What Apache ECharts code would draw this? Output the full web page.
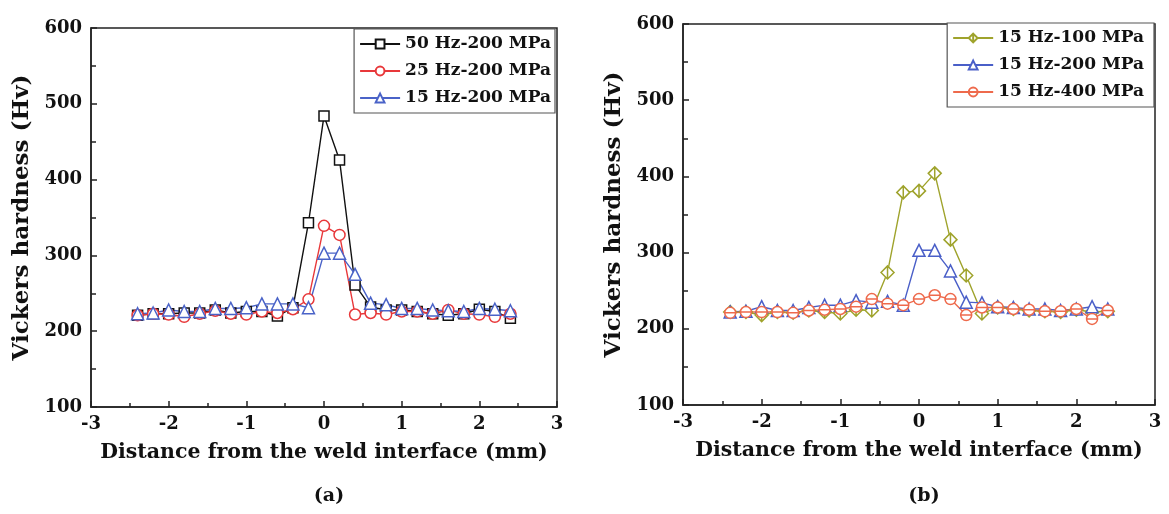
<!DOCTYPE html>
<html>
<head>
<meta charset="utf-8">
<script src="https://cdn.jsdelivr.net/npm/echarts@6/dist/echarts.min.js"></script>
<style>
  html, body { margin: 0; padding: 0; background: #fff; }
  #main { width: 1169px; height: 514px; }
</style>
</head>
<body>
<div id="main"></div>
<script>
// distance from the weld interface (mm)
var xs = [-2.4, -2.2, -2.0, -1.8, -1.6, -1.4, -1.2, -1.0, -0.8, -0.6, -0.4, -0.2, 0,
          0.2, 0.4, 0.6, 0.8, 1.0, 1.2, 1.4, 1.6, 1.8, 2.0, 2.2, 2.4];

// (a) 200 MPa, different frequencies
var hz50 = [221, 223, 223, 224, 224, 228, 224, 226, 226, 220, 231, 343, 484,
            426, 261, 232, 228, 228, 226, 223, 221, 223, 229, 226, 217];
var hz25 = [221, 223, 222, 219, 223, 227, 223, 222, 226, 224, 229, 242, 339,
            327, 222, 224, 222, 226, 226, 223, 228, 223, 222, 219, 223];
var hz15a = [223, 224, 228, 226, 226, 230, 230, 231, 236, 236, 236, 231, 303,
             303, 275, 237, 235, 230, 230, 228, 227, 226, 230, 229, 227];

// (b) 15 Hz, different stress
var mpa100 = [222, 222, 218, 222, 221, 224, 222, 220, 225, 224, 274, 379, 381,
              404, 317, 270, 220, 228, 226, 224, 223, 222, 225, 222, 223];
var mpa200 = [222, 223, 229, 224, 224, 228, 231, 231, 237, 235, 236, 231, 303,
              303, 276, 235, 234, 229, 228, 226, 226, 224, 226, 229, 226];
var mpa400 = [221, 222, 222, 222, 221, 224, 225, 226, 229, 239, 233, 231, 239,
              244, 239, 218, 228, 228, 226, 225, 223, 223, 226, 213, 224];

var xTicks = [-3, 3, 1];   // min, max, step
var yTicks = [100, 600, 100];

var font = 'DejaVu Serif';

function pts(ys) {
    return xs.map(function (x, i) { return [x, ys[i]]; });
}

// 带竖线的菱形 / 带横线的圆
var diamondBar = 'path://M5 0L10 5L5 10L0 5ZM5 0L5 10';
var circleBar = 'path://M0 5A5 5 0 1 1 10 5A5 5 0 1 1 0 5ZM0 5L10 5';

function line(name, ys, color, symbol, size, grid) {
    return {
        name: name,
        type: 'line',
        xAxisIndex: grid,
        yAxisIndex: grid,
        data: pts(ys),
        symbol: symbol,
        symbolSize: size,
        showAllSymbol: true,
        lineStyle: { color: color, width: 1.4 },
        itemStyle: { color: '#fff', borderColor: color, borderWidth: 1.5 },
        emphasis: { disabled: true },
        animation: false
    };
}

function xAxis(grid) {
    return {
        type: 'value',
        gridIndex: grid,
        min: xTicks[0], max: xTicks[1], interval: xTicks[2],
        name: 'Distance from the weld interface (mm)',
        nameLocation: 'middle',
        nameGap: 35,
        nameTextStyle: { fontFamily: font, fontWeight: 'bold', fontSize: 20.5, color: '#111' },
        axisLine: { show: true, onZero: false, lineStyle: { color: '#222', width: 1.5 } },
        axisTick: { show: true, inside: true, length: 6, lineStyle: { color: '#222', width: 1.5 } },
        minorTick: { show: true, splitNumber: 2, length: 4, lineStyle: { color: '#222', width: 1.5 } },
        splitLine: { show: false },
        axisLabel: { fontFamily: font, fontWeight: 'bold', fontSize: 18, color: '#111', margin: 8 }
    };
}

function yAxis(grid) {
    return {
        type: 'value',
        gridIndex: grid,
        min: yTicks[0], max: yTicks[1], interval: yTicks[2],
        name: 'Vickers hardness (Hv)',
        nameLocation: 'middle',
        nameGap: 57,
        nameTextStyle: { fontFamily: font, fontWeight: 'bold', fontSize: 23, color: '#111' },
        axisLine: { show: true, onZero: false, lineStyle: { color: '#222', width: 1.5 } },
        axisTick: { show: true, inside: true, length: 6, lineStyle: { color: '#222', width: 1.5 } },
        minorTick: { show: true, splitNumber: 2, length: 5, lineStyle: { color: '#222', width: 1.5 } },
        splitLine: { show: false },
        axisLabel: { fontFamily: font, fontWeight: 'bold', fontSize: 18, color: '#111', margin: 9 }
    };
}

function legend(grid, names, right, top) {
    return {
        data: names,
        orient: 'vertical',
        right: right,
        top: top,
        itemWidth: 40,
        itemHeight: 11,
        itemGap: 9,
        padding: [6, 4, 6, 5],
        borderColor: '#555',
        borderWidth: 1.2,
        backgroundColor: '#fff',
        textStyle: { fontFamily: font, fontWeight: 'bold', fontSize: 17, color: '#111', lineHeight: 18 },
        selectedMode: false
    };
}

var chart = echarts.init(document.getElementById('main'));

var option = {
    backgroundColor: '#fff',
    animation: false,
    title: [
        { text: '(a)', left: 324, top: 482, textAlign: 'center',
          textStyle: { fontFamily: font, fontWeight: 'bold', fontSize: 19, color: '#111' } },
        { text: '(b)', left: 919, top: 482, textAlign: 'center',
          textStyle: { fontFamily: font, fontWeight: 'bold', fontSize: 19, color: '#111' } }
    ],
    grid: [
        { left: 91, right: 612, top: 28, bottom: 107, show: true, borderColor: '#222', borderWidth: 1.5 },
        { left: 683, right: 14, top: 24, bottom: 109, show: true, borderColor: '#222', borderWidth: 1.5 }
    ],
    legend: [
        legend(0, ['50 Hz-200 MPa', '25 Hz-200 MPa', '15 Hz-200 MPa'], 614, 29),
        legend(1, ['15 Hz-100 MPa', '15 Hz-200 MPa ', '15 Hz-400 MPa'], 15, 23)
    ],
    xAxis: [xAxis(0), xAxis(1)],
    yAxis: [yAxis(0), yAxis(1)],
    series: [
        line('50 Hz-200 MPa', hz50, '#111111', 'rect', 10, 0),
        line('25 Hz-200 MPa', hz25, '#e8383a', 'circle', 11, 0),
        line('15 Hz-200 MPa', hz15a, '#4a63c8', 'triangle', 12, 0),
        line('15 Hz-100 MPa', mpa100, '#9fa32c', diamondBar, 13, 1),
        line('15 Hz-200 MPa ', mpa200, '#4a5fc8', 'triangle', 12, 1),
        line('15 Hz-400 MPa', mpa400, '#ee6a4c', circleBar, 11, 1)
    ]
};

chart.setOption(option);
</script>
</body>
</html>
